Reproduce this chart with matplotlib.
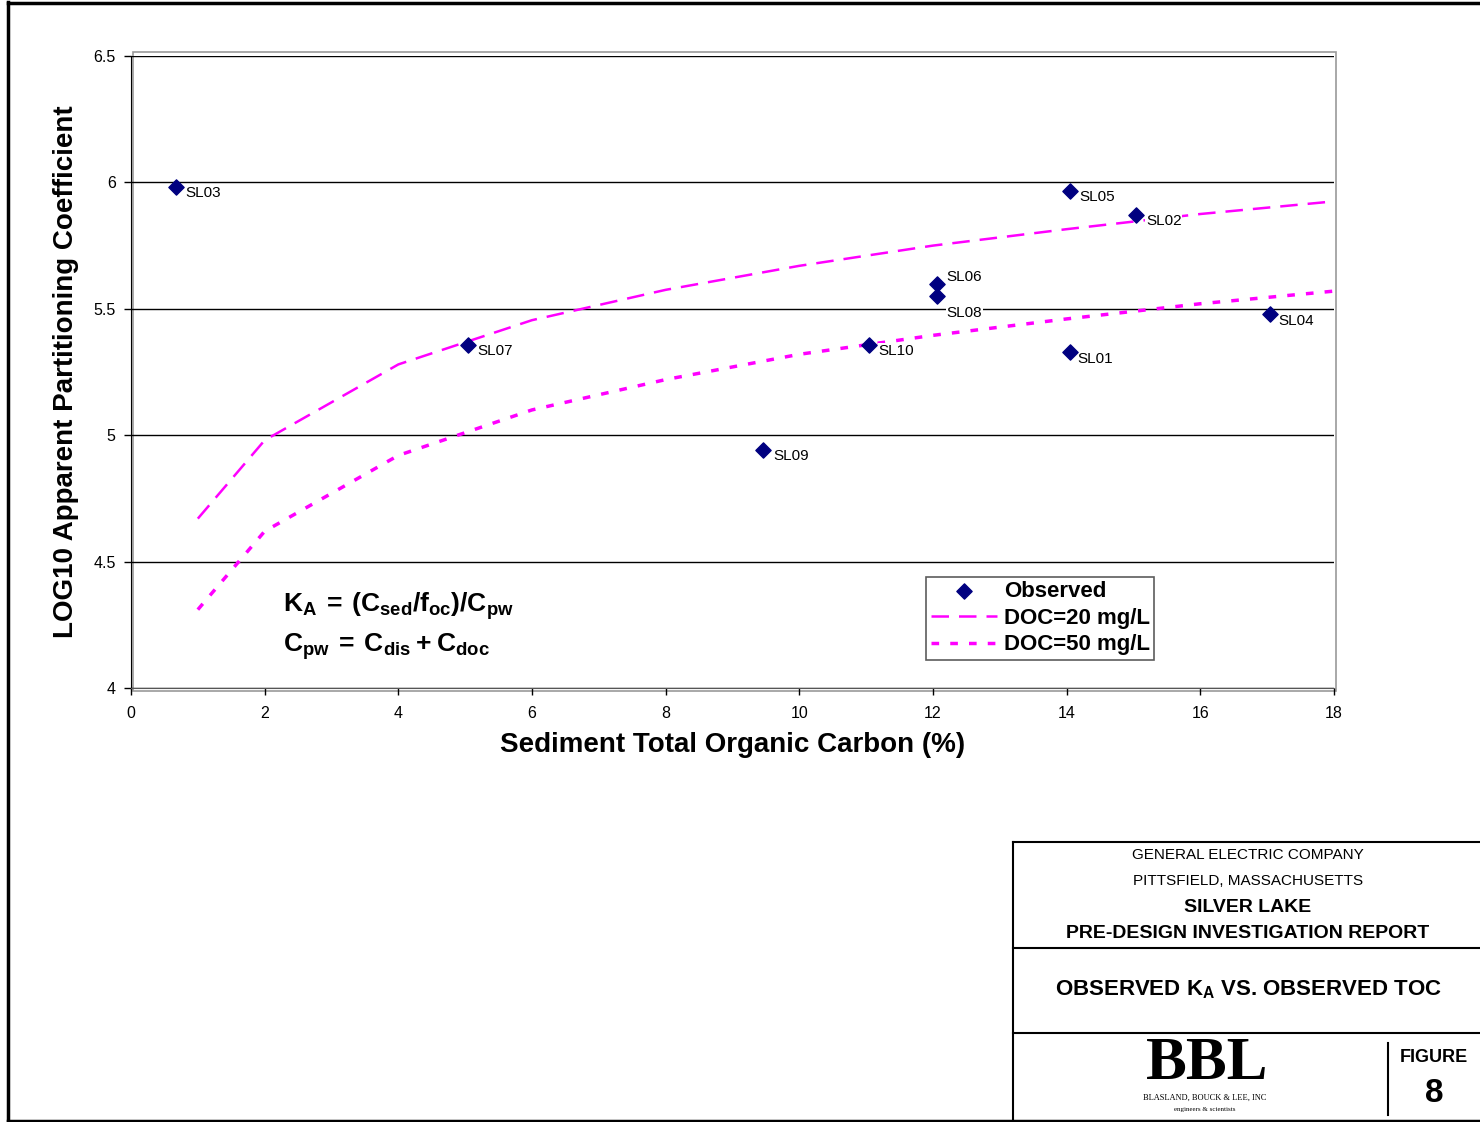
import numpy as np
import matplotlib
matplotlib.use("Agg")
import matplotlib.pyplot as plt
from matplotlib.patches import Rectangle
from matplotlib.lines import Line2D

plt.rcParams['font.family'] = ['Liberation Sans', 'DejaVu Sans']
plt.rcParams['mathtext.fontset'] = 'custom'
plt.rcParams['mathtext.rm'] = 'Liberation Sans:bold'
plt.rcParams['mathtext.bf'] = 'Liberation Sans:bold'
plt.rcParams['mathtext.it'] = 'Liberation Sans:bold'

# ── Data ──────────────────────────────────────────────────────────────────────
stations = ["SL03", "SL05", "SL02", "SL06", "SL08", "SL07", "SL10", "SL01", "SL04", "SL09"]
toc_obs = [0.67, 14.05, 15.04, 12.06, 12.06, 5.04, 11.04, 14.05, 17.04, 9.46]
logka_obs = [5.98, 5.965, 5.87, 5.60, 5.55, 5.355, 5.355, 5.33, 5.48, 4.94]

toc_model = [1, 2, 4, 6, 8, 10, 12, 14, 16, 18]
logka_doc20 = [4.67, 4.98, 5.28, 5.455, 5.575, 5.67, 5.75, 5.815, 5.875, 5.925]
logka_doc50 = [4.31, 4.62, 4.92, 5.10, 5.22, 5.32, 5.395, 5.46, 5.52, 5.57]

# label offsets in points (dx, dy)
label_off = {"SL06": (7, 5), "SL08": (7, -12), "SL01": (5, -5), "SL04": (6, -5)}

NAVY = "#000080"
MAGENTA = "#FF00FF"

fig = plt.figure(figsize=(14.8, 11.22), dpi=100)

def fx(px):
    return px / 1480

def fy(py):
    return 1 - py / 1122

# ── Outer page frame ─────────────────────────────────────────────────────────
for (x0, y0), (x1, y1) in [((8, 2), (8, 1121)), ((8, 2.5), (1480, 2.5)),
                           ((8, 1120.5), (1480, 1120.5))]:
    fig.add_artist(Line2D([fx(x0), fx(x1)], [fy(y0), fy(y1)],
                          transform=fig.transFigure, color="black", lw=2.5))

# ── Main chart ───────────────────────────────────────────────────────────────
ax = fig.add_axes([fx(131), fy(688), (1334 - 131) / 1480, (688 - 56) / 1122])
ax.set_xlim(0, 18)
ax.set_ylim(4, 6.5)
ax.set_xticks(range(0, 19, 2))
ax.set_yticks([4, 4.5, 5, 5.5, 6, 6.5])
ax.set_yticklabels(["4", "4.5", "5", "5.5", "6", "6.5"])
ax.tick_params(direction="out", length=5, width=1, labelsize=11.5)
ax.tick_params(axis="x", pad=8)
ax.tick_params(axis="y", pad=6)
ax.grid(True, axis="y", color="black", lw=1)
ax.set_axisbelow(True)
for s in ["top", "right"]:
    ax.spines[s].set_visible(False)
ax.spines["left"].set_color("black")
ax.spines["bottom"].set_color("#555555")
# gray plot-area frame
ax.add_patch(Rectangle((0.002, -0.004), 1.0, 1.01, transform=ax.transAxes,
                       fill=False, ec="#999999", lw=1.2, clip_on=False, zorder=0))

ax.plot(toc_model, logka_doc20, color=MAGENTA, lw=1.8, dashes=(7, 4),
        label="DOC=20 mg/L", zorder=2)
ax.plot(toc_model, logka_doc50, color=MAGENTA, lw=2.5, dashes=(2.2, 3.2),
        label="DOC=50 mg/L", zorder=2)
ax.scatter(toc_obs, logka_obs, marker="D", s=60, color=NAVY, zorder=4,
           label="Observed")

for name, x, y in zip(stations, toc_obs, logka_obs):
    dx, dy = label_off.get(name, (7, -4))
    ax.annotate(name, (x, y), xytext=(dx, dy), textcoords="offset points",
                fontsize=11, ha="left", va="center", zorder=3,
                bbox=dict(boxstyle="square,pad=0.05", fc="white", ec="none"))

ax.set_xlabel("Sediment Total Organic Carbon (%)", fontsize=20, fontweight="bold",
              labelpad=8)
ax.set_ylabel("LOG10 Apparent Partitioning Coefficient", fontsize=20,
              fontweight="bold", labelpad=10)

handles, labels = ax.get_legend_handles_labels()
order = [2, 0, 1]
leg = ax.legend([handles[i] for i in order], [labels[i] for i in order],
                loc="upper left", bbox_to_anchor=(0.661, 0.176),
                prop={"weight": "bold", "size": 16}, frameon=True, fancybox=False,
                edgecolor="#333333", handlelength=3.0, handletextpad=0.3,
                borderpad=0.2, labelspacing=0.25, borderaxespad=0)
leg.get_frame().set_linewidth(1.2)
leg.set_zorder(5)

ax.text(0.126, 0.13, r"$\mathrm{K_A\:=\:(C_{sed}/f_{oc})/C_{pw}}$",
        transform=ax.transAxes, fontsize=19, va="center", ha="left")
ax.text(0.126, 0.065, r"$\mathrm{C_{pw}\:=\:C_{dis}\:+\:C_{doc}}$",
        transform=ax.transAxes, fontsize=19, va="center", ha="left")

# ── Title block ──────────────────────────────────────────────────────────────
tb_lines = [((1013, 842), (1480, 842)), ((1013, 842), (1013, 1121)),
            ((1013, 948), (1480, 948)), ((1013, 1033), (1480, 1033)),
            ((1388, 1043), (1388, 1115))]
for (x0, y0), (x1, y1) in tb_lines:
    fig.add_artist(Line2D([fx(x0), fx(x1)], [fy(y0), fy(y1)],
                          transform=fig.transFigure, color="black", lw=1.5))

cx = fx(1248)
fig.text(cx, fy(855), "GENERAL ELECTRIC COMPANY", ha="center", va="center", fontsize=11)
fig.text(cx, fy(881), "PITTSFIELD, MASSACHUSETTS", ha="center", va="center", fontsize=11)
fig.text(cx, fy(908), "SILVER LAKE", ha="center", va="center", fontsize=14,
         fontweight="bold")
fig.text(cx, fy(934), "PRE-DESIGN INVESTIGATION REPORT", ha="center", va="center",
         fontsize=14, fontweight="bold")
fig.text(cx, fy(990), r"OBSERVED K$_\mathrm{A}$ VS. OBSERVED TOC", ha="center",
         va="center", fontsize=16, fontweight="bold")
fig.text(fx(1434), fy(1058), "FIGURE", ha="center", va="center", fontsize=13,
         fontweight="bold")
fig.text(fx(1434), fy(1094), "8", ha="center", va="center", fontsize=24,
         fontweight="bold")

# BBL logo
fig.text(fx(1207), fy(1064), "BBL", ha="center", va="center", fontsize=44,
         fontweight="bold", family="Liberation Serif")
fig.text(fx(1205), fy(1098), "BLASLAND, BOUCK & LEE, INC", ha="center", va="center",
         fontsize=6, family="Liberation Serif")
fig.text(fx(1205), fy(1110), "engineers & scientists", ha="center", va="center",
         fontsize=5, family="Liberation Serif")

fig.savefig("out.png", dpi=100)
